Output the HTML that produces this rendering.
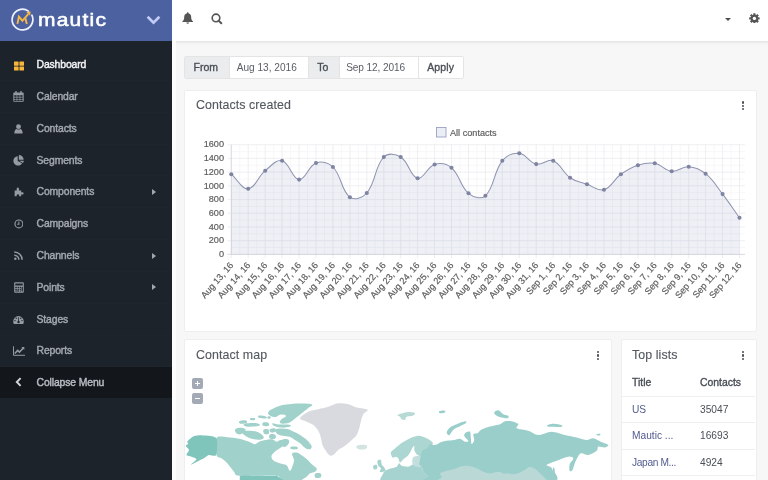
<!DOCTYPE html>
<html lang="en"><head><meta charset="utf-8"><title>Dashboard | Mautic</title>
<style>
*{box-sizing:border-box;margin:0;padding:0}
html,body{width:768px;height:480px;overflow:hidden}
body{position:relative;background:#f7f7f7;font-family:"Liberation Sans",sans-serif;font-size:10px;color:#4a4f57}
.abs{position:absolute}
#wrap{position:absolute;left:0;top:0;width:768px;height:480px;overflow:hidden;will-change:transform}
#side{position:absolute;left:0;top:0;width:172px;height:480px;background:#1d232b}
#brand{position:absolute;left:0;top:0;width:172px;height:41.4px;background:#4c61a0}
#brand .name{position:absolute;left:37.6px;top:7.7px;font-size:17.7px;font-weight:normal;-webkit-text-stroke:.55px #fff;color:#fff;letter-spacing:1.05px;line-height:24px;transform:scaleX(1.185);transform-origin:0 0}
.mi{position:absolute;left:0;width:172px;height:31.8px;color:#a3a8b0;font-size:10.3px;border-bottom:1px solid rgba(255,255,255,.012)}
.mi .ic{position:absolute;left:11.6px;top:0;width:14px;height:31.8px;display:flex;align-items:center;justify-content:center}
.mi .tx{position:absolute;left:36.5px;top:0;line-height:31.8px;font-size:10.4px;-webkit-text-stroke:.42px;letter-spacing:-.12px;white-space:nowrap}
.mi.act .tx{color:#f2f3f5}
.mi .arr{position:absolute;left:152px;top:12.6px;width:0;height:0;border-left:4px solid #a3a8b0;border-top:3.3px solid transparent;border-bottom:3.3px solid transparent}
#collapse{position:absolute;left:0;top:366.6px;width:172px;height:31.4px;background:#13171c;color:#b9bdc4;font-size:10.3px}
#collapse .tx{position:absolute;left:36.5px;line-height:31.4px;font-size:10.4px;-webkit-text-stroke:.42px;letter-spacing:-.12px}
#head{position:absolute;left:172px;top:0;width:596px;height:41px;background:#fff}
#hsh{position:absolute;left:175.5px;top:41px;width:593px;height:5px;background:linear-gradient(rgba(0,0,0,.085),rgba(0,0,0,.02) 45%,rgba(0,0,0,0))}
#strip{position:absolute;left:172px;top:41px;width:3.5px;height:439px;background:#fdfdfd}
.panel{position:absolute;background:#fff;border:1px solid #eee;border-radius:2px}
.pt{position:absolute;font-size:12.4px;color:#53585f;white-space:nowrap;letter-spacing:.08px;-webkit-text-stroke:.12px}
.keb{position:absolute;width:3px}
.keb i{display:block;width:2.4px;height:2.4px;background:#4a4f57;border-radius:50%;margin-bottom:.9px}
#filter{position:absolute;left:184px;top:55.5px;width:279.5px;height:23px;border:1px solid #e4e4e4;border-radius:2px;background:#fff;font-size:10.2px}
#filter div{position:absolute;top:0;height:21px;line-height:21.2px;text-align:center;white-space:nowrap}
#filter .ad{background:#ebecee;color:#4a4f57;font-size:10.5px;-webkit-text-stroke:.35px;border-right:1px solid #e4e4e4}
#filter .in{color:#5a5f67;letter-spacing:0;font-size:10.1px}
#filter .bt{color:#4a4f57;font-size:10.5px;-webkit-text-stroke:.35px;border-left:1px solid #e4e4e4}
svg.chart{position:absolute;left:0;top:0}
.ct{font-family:"Liberation Sans",sans-serif;font-size:9.15px;fill:#5c5c5c;stroke:#5c5c5c;stroke-width:.18px}
.tbl{position:absolute;font-size:10.2px;white-space:nowrap}
.th{font-size:10.4px;-webkit-text-stroke:.35px;color:#4a4f57}
.lnk{color:#525c8e}
.hr{position:absolute;left:622px;width:133px;height:1px;background:#efefef}
.zb{position:absolute;left:192.3px;width:11px;height:11px;background:#a4a9b6;border-radius:2px}
.zb:before{content:"";position:absolute;left:3px;top:5px;width:5px;height:1.2px;background:#fff}
.zb.pl:after{content:"";position:absolute;left:4.9px;top:3.1px;width:1.2px;height:5px;background:#fff}
</style></head><body>

<div id="wrap">
<div id="side">
<div class="mi act" style="top:49.2px"><span class="ic"><svg width="10" height="11" viewBox="0 0 10 11"><g fill="#f7b53c"><rect x="0" y="1.6" width="4.6" height="4.1" rx=".4"/><rect x="5.4" y="1.6" width="4.6" height="4.1" rx=".4"/><rect x="0" y="6.5" width="4.6" height="4.1" rx=".4"/><rect x="5.4" y="6.5" width="4.6" height="4.1" rx=".4"/></g></svg></span><span class="tx">Dashboard</span></div>
<div class="mi" style="top:81.0px"><span class="ic"><svg width="11" height="11" viewBox="0 0 11 11"><g fill="#959aa3"><rect x="0.3" y="1.6" width="10.4" height="9.2" rx=".8"/><rect x="2.3" y="0" width="1.4" height="3" rx=".6"/><rect x="7.3" y="0" width="1.4" height="3" rx=".6"/></g><g fill="#1d232b"><rect x="1.3" y="4.2" width="2.3" height="1.6"/><rect x="4.3" y="4.2" width="2.3" height="1.6"/><rect x="7.3" y="4.2" width="2.3" height="1.6"/><rect x="1.3" y="6.5" width="2.3" height="1.6"/><rect x="4.3" y="6.5" width="2.3" height="1.6"/><rect x="7.3" y="6.5" width="2.3" height="1.6"/><rect x="1.3" y="8.7" width="2.3" height="1.3"/><rect x="4.3" y="8.7" width="2.3" height="1.3"/><rect x="7.3" y="8.7" width="2.3" height="1.3"/></g></svg></span><span class="tx">Calendar</span></div>
<div class="mi" style="top:112.8px"><span class="ic"><svg width="9" height="10" viewBox="0 0 10 11"><g fill="#959aa3"><circle cx="5" cy="2.9" r="2.7"/><path d="M0.4,10.6 C0.2,7.4 1.6,5.6 3.2,5.5 C4.2,6.4 5.8,6.4 6.8,5.5 C8.4,5.6 9.8,7.4 9.6,10.6 Z"/></g></svg></span><span class="tx">Contacts</span></div>
<div class="mi" style="top:144.6px"><span class="ic"><svg width="11" height="11" viewBox="0 0 11 11"><g fill="#959aa3"><path d="M4.7,1.2 A4.7,4.7 0 1 0 9.1,8.3 L4.7,5.9 Z"/><path d="M5.8,0 A4.9,4.9 0 0 1 10.7,4.8 L5.8,4.8 Z"/><path d="M6,5.8 L10.8,5.8 A5,5 0 0 1 10,8 Z"/></g></svg></span><span class="tx">Segments</span></div>
<div class="mi" style="top:176.4px"><span class="ic"><svg width="10" height="9.6" style="margin-top:-1px" viewBox="0 0 11 11"><g fill="#959aa3"><path d="M0.5,4 H3 C2.2,2.2 3.2,0.6 4.2,0.6 C5.3,0.6 6,2.2 5.3,4 H8 V6.4 C9.6,5.6 10.8,6.4 10.8,7.4 C10.8,8.5 9.6,9.1 8,8.4 V10.7 H5.6 C6.2,9.2 5.4,8.3 4.3,8.3 C3.2,8.3 2.4,9.2 3,10.7 H0.5 Z"/></g></svg></span><span class="tx">Components</span><i class="arr"></i></div>
<div class="mi" style="top:208.2px"><span class="ic"><svg width="9.8" height="9.8" style="margin-top:-.6px" viewBox="0 0 11 11"><circle cx="5.5" cy="5.5" r="4.4" fill="none" stroke="#959aa3" stroke-width="1.3"/><path d="M5.5,2.8 V5.8 H3.6" fill="none" stroke="#959aa3" stroke-width="1.2"/></svg></span><span class="tx">Campaigns</span></div>
<div class="mi" style="top:240.0px"><span class="ic"><svg width="9" height="9" style="margin-top:-.6px" viewBox="0 0 10 10"><g fill="none" stroke="#959aa3" stroke-width="1.7"><path d="M0.3,1 A8.7,8.7 0 0 1 9,9.7"/><path d="M0.3,4.6 A5.1,5.1 0 0 1 5.4,9.7"/></g><circle cx="1.5" cy="8.5" r="1.4" fill="#959aa3"/></svg></span><span class="tx">Channels</span><i class="arr"></i></div>
<div class="mi" style="top:271.8px"><span class="ic"><svg width="10" height="11" preserveAspectRatio="none" style="margin-left:.6px" viewBox="0 0 11 11"><rect x="0.2" y="0.2" width="10.6" height="10.6" rx="1" fill="#959aa3"/><g fill="#1d232b"><rect x="1.4" y="1.5" width="8.2" height="2"/><rect x="1.4" y="4.8" width="1.7" height="1.4"/><rect x="3.9" y="4.8" width="1.7" height="1.4"/><rect x="6.4" y="4.8" width="1.3" height="1.4"/><rect x="8.4" y="4.8" width="1.3" height="4.6"/><rect x="1.4" y="6.9" width="1.7" height="1.0"/><rect x="3.9" y="6.9" width="1.7" height="1.0"/><rect x="6.4" y="6.9" width="1.3" height="1.0"/><rect x="1.4" y="8.5" width="4.2" height="1"/><rect x="6.4" y="8.5" width="1.3" height="1"/></g></svg></span><span class="tx">Points</span><i class="arr"></i></div>
<div class="mi" style="top:303.6px"><span class="ic"><svg width="11" height="9" viewBox="0 0 11 9" style="margin-top:-.8px"><path d="M0.2,6.6 A5.3,5.6 0 0 1 10.8,6.6 C10.8,7.6 10.6,8.4 10.2,8.9 H0.8 C0.4,8.4 0.2,7.6 0.2,6.6 Z" fill="#959aa3"/><g fill="#1d232b"><circle cx="2" cy="5.6" r=".7"/><circle cx="3.2" cy="3.2" r=".7"/><circle cx="7.8" cy="3.2" r=".7"/><circle cx="9" cy="5.6" r=".7"/><circle cx="5.5" cy="7" r="1.2"/><rect x="5.15" y="2.2" width=".75" height="4.4"/></g></svg></span><span class="tx">Stages</span></div>
<div class="mi" style="top:335.4px"><span class="ic"><svg width="12" height="10" viewBox="0 0 12 10" style="margin-top:-1.4px"><g fill="none" stroke="#959aa3"><path d="M0.5,0.3 V9.3 H12" stroke-width="1"/><path d="M1.8,7.4 L4.6,4.4 L6.4,6.1 L10.6,1.8" stroke-width="1.5"/></g><path d="M8.3,1.1 H11.3 V4.1 Z" fill="#959aa3"/></svg></span><span class="tx">Reports</span></div>
<div id="collapse"><svg class="abs" style="left:14.6px;top:10.7px" width="8" height="10" viewBox="0 0 8 10"><path d="M5.6,1.1 L1.8,5 L5.6,8.9" fill="none" stroke="#d4d6da" stroke-width="1.9"/></svg><span class="tx">Collapse Menu</span></div>
<div id="brand">
<svg class="abs" style="left:9.95px;top:6.55px" width="28" height="27" viewBox="0 0 28 27">
<path d="M18.44,4.12 A10.35,10.35 0 1 0 21.88,8.23" fill="none" stroke="#eef1fd" stroke-width="1.75" stroke-linecap="round"/>
<path d="M7.4,16.9 L8.9,9.7 L12.4,13.9 L18.2,7.2" fill="none" stroke="#f7b945" stroke-width="1.9"/>
<path d="M15.4,11.2 L16.8,17" fill="none" stroke="#f7b945" stroke-width="1.9"/>
<path d="M16.2,5.0 L20.6,4.4 L20.1,8.8 Z" fill="#f7b945"/>
</svg>
<span class="name">mautic</span>
<svg class="abs" style="left:146.3px;top:14.6px" width="15" height="11" viewBox="0 0 15 11"><path d="M1.6,1.8 L7.5,7.7 L13.4,1.8" fill="none" stroke="#c3cbf6" stroke-width="2.7"/></svg>
</div>
</div>

<div id="strip"></div><div id="hsh"></div>
<div id="head">
<svg class="abs" style="left:9.7px;top:12.2px" width="11.4" height="12" viewBox="0 0 12 12" preserveAspectRatio="none"><path d="M6,0.3 C6.6,0.3 6.9,0.7 6.9,1.2 C9,1.8 9.7,3.4 9.7,5.4 C9.7,7.4 10.4,8.4 11.6,9.3 V9.9 H0.4 V9.3 C1.6,8.4 2.3,7.4 2.3,5.4 C2.3,3.4 3,1.8 5.1,1.2 C5.1,0.7 5.4,0.3 6,0.3 Z M4.6,10.4 H7.4 A1.4,1.4 0 0 1 4.6,10.4 Z" fill="#555"/></svg>
<svg class="abs" style="left:39px;top:12.5px" width="12" height="12" viewBox="0 0 12 12"><circle cx="5" cy="4.9" r="3.8" fill="none" stroke="#555" stroke-width="1.6"/><path d="M7.6,7.6 L10.3,10.3" stroke="#555" stroke-width="2" stroke-linecap="round"/></svg>
<i class="abs" style="left:553px;top:17.8px;width:0;height:0;border-top:3.2px solid #505050;border-left:3.2px solid transparent;border-right:3.2px solid transparent"></i>
<svg class="abs" style="left:577.3px;top:12.6px" width="10.8" height="10.8" viewBox="-6 -6 12 12"><g fill="#555"><circle r="4.1"/><g id="t"><rect x="-1.25" y="-5.8" width="2.5" height="11.6" rx=".4"/></g><rect x="-1.25" y="-5.8" width="2.5" height="11.6" rx=".4" transform="rotate(45)"/><rect x="-1.25" y="-5.8" width="2.5" height="11.6" rx=".4" transform="rotate(90)"/><rect x="-1.25" y="-5.8" width="2.5" height="11.6" rx=".4" transform="rotate(135)"/></g><circle r="1.9" fill="#fff"/></svg>
</div>

<div id="filter">
<div class="ad" style="left:0;width:44.5px;padding-right:2px">From</div>
<div class="in" style="left:44.5px;width:78.5px;padding-right:4px">Aug 13, 2016</div>
<div class="ad" style="left:123px;width:31.5px;border-left:1px solid #e4e4e4;padding-right:2px">To</div>
<div class="in" style="left:154.5px;width:78.3px;padding-right:6px;letter-spacing:-.1px">Sep 12, 2016</div>
<div class="bt" style="left:232.8px;width:44.7px;letter-spacing:.1px">Apply</div>
</div>

<div class="panel" style="left:184px;top:90.1px;width:572.5px;height:241.5px"></div>
<div class="pt" style="left:196px;top:98.1px">Contacts created</div>
<div class="keb" style="left:741.6px;top:101.3px"><i></i><i></i><i></i></div>

<div class="panel" style="left:184px;top:339.4px;width:428px;height:150px;overflow:hidden"></div>
<div class="pt" style="left:196px;top:347.9px">Contact map</div>
<div class="keb" style="left:596.6px;top:351px"><i></i><i></i><i></i></div>
<div class="zb pl" style="top:377.7px"></div>
<div class="zb" style="top:392.7px"></div>

<div class="panel" style="left:621px;top:339.4px;width:135.5px;height:150px"></div>
<div class="pt" style="left:632px;top:347.9px">Top lists</div>
<div class="keb" style="left:741.6px;top:351px"><i></i><i></i><i></i></div>
<div class="tbl th" style="left:632px;top:376.5px">Title</div><div class="tbl th" style="left:700px;top:376.5px">Contacts</div>
<div class="hr" style="top:396px"></div>
<div class="tbl lnk" style="left:632px;top:403.5px">US</div><div class="tbl" style="left:700px;top:403.5px">35047</div>
<div class="hr" style="top:422px"></div>
<div class="tbl lnk" style="left:632px;top:430px">Mautic ...</div><div class="tbl" style="left:700px;top:430px">16693</div>
<div class="hr" style="top:448.5px"></div>
<div class="tbl lnk" style="left:632px;top:456.5px;letter-spacing:-.35px">Japan M...</div><div class="tbl" style="left:700px;top:456.5px">4924</div>
<div class="hr" style="top:474.5px"></div>

<svg class="chart" width="768" height="480" viewBox="0 0 768 480">
<g stroke="#f4f4f7" stroke-width="0.7"><line x1="231.3" y1="151.6" x2="745" y2="151.6"/><line x1="231.3" y1="165.3" x2="745" y2="165.3"/><line x1="231.3" y1="179.0" x2="745" y2="179.0"/><line x1="231.3" y1="192.7" x2="745" y2="192.7"/><line x1="231.3" y1="206.4" x2="745" y2="206.4"/><line x1="231.3" y1="220.1" x2="745" y2="220.1"/><line x1="231.3" y1="233.8" x2="745" y2="233.8"/><line x1="231.3" y1="247.5" x2="745" y2="247.5"/><line x1="239.8" y1="144.7" x2="239.8" y2="254.4"/><line x1="256.7" y1="144.7" x2="256.7" y2="254.4"/><line x1="273.7" y1="144.7" x2="273.7" y2="254.4"/><line x1="290.6" y1="144.7" x2="290.6" y2="254.4"/><line x1="307.5" y1="144.7" x2="307.5" y2="254.4"/><line x1="324.5" y1="144.7" x2="324.5" y2="254.4"/><line x1="341.4" y1="144.7" x2="341.4" y2="254.4"/><line x1="358.4" y1="144.7" x2="358.4" y2="254.4"/><line x1="375.3" y1="144.7" x2="375.3" y2="254.4"/><line x1="392.2" y1="144.7" x2="392.2" y2="254.4"/><line x1="409.2" y1="144.7" x2="409.2" y2="254.4"/><line x1="426.1" y1="144.7" x2="426.1" y2="254.4"/><line x1="443.1" y1="144.7" x2="443.1" y2="254.4"/><line x1="460.0" y1="144.7" x2="460.0" y2="254.4"/><line x1="476.9" y1="144.7" x2="476.9" y2="254.4"/><line x1="493.9" y1="144.7" x2="493.9" y2="254.4"/><line x1="510.8" y1="144.7" x2="510.8" y2="254.4"/><line x1="527.8" y1="144.7" x2="527.8" y2="254.4"/><line x1="544.7" y1="144.7" x2="544.7" y2="254.4"/><line x1="561.6" y1="144.7" x2="561.6" y2="254.4"/><line x1="578.6" y1="144.7" x2="578.6" y2="254.4"/><line x1="595.5" y1="144.7" x2="595.5" y2="254.4"/><line x1="612.5" y1="144.7" x2="612.5" y2="254.4"/><line x1="629.4" y1="144.7" x2="629.4" y2="254.4"/><line x1="646.3" y1="144.7" x2="646.3" y2="254.4"/><line x1="663.3" y1="144.7" x2="663.3" y2="254.4"/><line x1="680.2" y1="144.7" x2="680.2" y2="254.4"/><line x1="697.2" y1="144.7" x2="697.2" y2="254.4"/><line x1="714.1" y1="144.7" x2="714.1" y2="254.4"/><line x1="731.0" y1="144.7" x2="731.0" y2="254.4"/></g>
<g stroke="#ebebef" stroke-width="0.8"><line x1="227.5" y1="144.7" x2="745" y2="144.7"/><line x1="227.5" y1="158.4" x2="745" y2="158.4"/><line x1="227.5" y1="172.1" x2="745" y2="172.1"/><line x1="227.5" y1="185.8" x2="745" y2="185.8"/><line x1="227.5" y1="199.6" x2="745" y2="199.6"/><line x1="227.5" y1="213.3" x2="745" y2="213.3"/><line x1="227.5" y1="227.0" x2="745" y2="227.0"/><line x1="227.5" y1="240.7" x2="745" y2="240.7"/><line x1="227.5" y1="254.4" x2="745" y2="254.4"/><line x1="231.3" y1="144.7" x2="231.3" y2="258.4"/><line x1="248.2" y1="144.7" x2="248.2" y2="258.4"/><line x1="265.2" y1="144.7" x2="265.2" y2="258.4"/><line x1="282.1" y1="144.7" x2="282.1" y2="258.4"/><line x1="299.1" y1="144.7" x2="299.1" y2="258.4"/><line x1="316.0" y1="144.7" x2="316.0" y2="258.4"/><line x1="332.9" y1="144.7" x2="332.9" y2="258.4"/><line x1="349.9" y1="144.7" x2="349.9" y2="258.4"/><line x1="366.8" y1="144.7" x2="366.8" y2="258.4"/><line x1="383.8" y1="144.7" x2="383.8" y2="258.4"/><line x1="400.7" y1="144.7" x2="400.7" y2="258.4"/><line x1="417.6" y1="144.7" x2="417.6" y2="258.4"/><line x1="434.6" y1="144.7" x2="434.6" y2="258.4"/><line x1="451.5" y1="144.7" x2="451.5" y2="258.4"/><line x1="468.5" y1="144.7" x2="468.5" y2="258.4"/><line x1="485.4" y1="144.7" x2="485.4" y2="258.4"/><line x1="502.3" y1="144.7" x2="502.3" y2="258.4"/><line x1="519.3" y1="144.7" x2="519.3" y2="258.4"/><line x1="536.2" y1="144.7" x2="536.2" y2="258.4"/><line x1="553.2" y1="144.7" x2="553.2" y2="258.4"/><line x1="570.1" y1="144.7" x2="570.1" y2="258.4"/><line x1="587.0" y1="144.7" x2="587.0" y2="258.4"/><line x1="604.0" y1="144.7" x2="604.0" y2="258.4"/><line x1="620.9" y1="144.7" x2="620.9" y2="258.4"/><line x1="637.9" y1="144.7" x2="637.9" y2="258.4"/><line x1="654.8" y1="144.7" x2="654.8" y2="258.4"/><line x1="671.7" y1="144.7" x2="671.7" y2="258.4"/><line x1="688.7" y1="144.7" x2="688.7" y2="258.4"/><line x1="705.6" y1="144.7" x2="705.6" y2="258.4"/><line x1="722.6" y1="144.7" x2="722.6" y2="258.4"/><line x1="739.5" y1="144.7" x2="739.5" y2="258.4"/></g>
<line x1="231.3" y1="144.7" x2="231.3" y2="254.4" stroke="#d9d9df" stroke-width="0.9"/>
<line x1="227.5" y1="254.4" x2="745" y2="254.4" stroke="#d9d9df" stroke-width="0.9"/>
<path d="M231.3,174.2C238.1,180.0 241.8,189.5 248.2,188.8C255.4,188.1 257.6,177.0 265.2,170.7C271.2,165.8 276.2,159.2 282.1,160.8C289.8,162.8 292.1,179.1 299.1,179.6C305.6,180.0 308.2,165.9 316.0,163.0C321.7,160.9 328.4,162.4 332.9,167.0C342.0,176.1 340.9,190.3 349.9,197.2C354.4,200.7 362.7,197.9 366.8,193.0C376.2,181.8 374.3,167.1 383.8,157.0C387.8,152.7 395.5,153.7 400.7,157.0C409.1,162.3 410.1,176.6 417.6,178.3C423.7,179.6 427.0,166.8 434.6,164.5C440.6,162.6 446.6,163.6 451.5,167.8C460.2,175.2 459.8,186.1 468.5,193.3C473.3,197.3 481.3,199.8 485.4,195.8C494.8,186.8 493.2,172.3 502.3,160.8C506.7,155.3 512.8,152.7 519.3,153.3C526.3,154.0 528.9,162.5 536.2,164.1C542.5,165.5 547.5,158.4 553.2,160.7C561.0,163.9 562.4,172.3 570.1,177.7C575.9,181.8 580.2,181.9 587.0,184.3C593.7,186.7 598.1,191.4 604.0,189.7C611.6,187.4 613.5,179.6 620.9,174.3C627.1,169.9 630.7,167.6 637.9,165.3C644.2,163.2 648.3,162.2 654.8,163.3C661.9,164.6 664.7,170.6 671.7,171.3C678.3,172.0 682.1,166.2 688.7,166.7C695.6,167.2 700.1,169.2 705.6,173.7C713.6,180.2 716.1,185.7 722.6,194.1C729.7,203.3 732.7,208.3 739.5,217.8L739.5,254.4L231.3,254.4Z" fill="rgba(78,93,157,0.095)"/>
<path d="M231.3,174.2C238.1,180.0 241.8,189.5 248.2,188.8C255.4,188.1 257.6,177.0 265.2,170.7C271.2,165.8 276.2,159.2 282.1,160.8C289.8,162.8 292.1,179.1 299.1,179.6C305.6,180.0 308.2,165.9 316.0,163.0C321.7,160.9 328.4,162.4 332.9,167.0C342.0,176.1 340.9,190.3 349.9,197.2C354.4,200.7 362.7,197.9 366.8,193.0C376.2,181.8 374.3,167.1 383.8,157.0C387.8,152.7 395.5,153.7 400.7,157.0C409.1,162.3 410.1,176.6 417.6,178.3C423.7,179.6 427.0,166.8 434.6,164.5C440.6,162.6 446.6,163.6 451.5,167.8C460.2,175.2 459.8,186.1 468.5,193.3C473.3,197.3 481.3,199.8 485.4,195.8C494.8,186.8 493.2,172.3 502.3,160.8C506.7,155.3 512.8,152.7 519.3,153.3C526.3,154.0 528.9,162.5 536.2,164.1C542.5,165.5 547.5,158.4 553.2,160.7C561.0,163.9 562.4,172.3 570.1,177.7C575.9,181.8 580.2,181.9 587.0,184.3C593.7,186.7 598.1,191.4 604.0,189.7C611.6,187.4 613.5,179.6 620.9,174.3C627.1,169.9 630.7,167.6 637.9,165.3C644.2,163.2 648.3,162.2 654.8,163.3C661.9,164.6 664.7,170.6 671.7,171.3C678.3,172.0 682.1,166.2 688.7,166.7C695.6,167.2 700.1,169.2 705.6,173.7C713.6,180.2 716.1,185.7 722.6,194.1C729.7,203.3 732.7,208.3 739.5,217.8" fill="none" stroke="#9096b1" stroke-width="1.05"/>
<g fill="#7e84a1"><circle cx="231.3" cy="174.2" r="2.05"/><circle cx="248.2" cy="188.8" r="2.05"/><circle cx="265.2" cy="170.7" r="2.05"/><circle cx="282.1" cy="160.8" r="2.05"/><circle cx="299.1" cy="179.6" r="2.05"/><circle cx="316.0" cy="163.0" r="2.05"/><circle cx="332.9" cy="167.0" r="2.05"/><circle cx="349.9" cy="197.2" r="2.05"/><circle cx="366.8" cy="193.0" r="2.05"/><circle cx="383.8" cy="157.0" r="2.05"/><circle cx="400.7" cy="157.0" r="2.05"/><circle cx="417.6" cy="178.3" r="2.05"/><circle cx="434.6" cy="164.5" r="2.05"/><circle cx="451.5" cy="167.8" r="2.05"/><circle cx="468.5" cy="193.3" r="2.05"/><circle cx="485.4" cy="195.8" r="2.05"/><circle cx="502.3" cy="160.8" r="2.05"/><circle cx="519.3" cy="153.3" r="2.05"/><circle cx="536.2" cy="164.1" r="2.05"/><circle cx="553.2" cy="160.7" r="2.05"/><circle cx="570.1" cy="177.7" r="2.05"/><circle cx="587.0" cy="184.3" r="2.05"/><circle cx="604.0" cy="189.7" r="2.05"/><circle cx="620.9" cy="174.3" r="2.05"/><circle cx="637.9" cy="165.3" r="2.05"/><circle cx="654.8" cy="163.3" r="2.05"/><circle cx="671.7" cy="171.3" r="2.05"/><circle cx="688.7" cy="166.7" r="2.05"/><circle cx="705.6" cy="173.7" r="2.05"/><circle cx="722.6" cy="194.1" r="2.05"/><circle cx="739.5" cy="217.8" r="2.05"/></g>
<g class="ct"><text x="224" y="147.4" text-anchor="end">1600</text><text x="224" y="161.1" text-anchor="end">1400</text><text x="224" y="174.8" text-anchor="end">1200</text><text x="224" y="188.5" text-anchor="end">1000</text><text x="224" y="202.2" text-anchor="end">800</text><text x="224" y="216.0" text-anchor="end">600</text><text x="224" y="229.7" text-anchor="end">400</text><text x="224" y="243.4" text-anchor="end">200</text><text x="224" y="257.1" text-anchor="end">0</text></g>
<g class="ct"><text transform="translate(233.9,265.7) rotate(-49)" text-anchor="end">Aug 13, 16</text><text transform="translate(250.8,265.7) rotate(-49)" text-anchor="end">Aug 14, 16</text><text transform="translate(267.8,265.7) rotate(-49)" text-anchor="end">Aug 15, 16</text><text transform="translate(284.7,265.7) rotate(-49)" text-anchor="end">Aug 16, 16</text><text transform="translate(301.7,265.7) rotate(-49)" text-anchor="end">Aug 17, 16</text><text transform="translate(318.6,265.7) rotate(-49)" text-anchor="end">Aug 18, 16</text><text transform="translate(335.5,265.7) rotate(-49)" text-anchor="end">Aug 19, 16</text><text transform="translate(352.5,265.7) rotate(-49)" text-anchor="end">Aug 20, 16</text><text transform="translate(369.4,265.7) rotate(-49)" text-anchor="end">Aug 21, 16</text><text transform="translate(386.4,265.7) rotate(-49)" text-anchor="end">Aug 22, 16</text><text transform="translate(403.3,265.7) rotate(-49)" text-anchor="end">Aug 23, 16</text><text transform="translate(420.2,265.7) rotate(-49)" text-anchor="end">Aug 24, 16</text><text transform="translate(437.2,265.7) rotate(-49)" text-anchor="end">Aug 25, 16</text><text transform="translate(454.1,265.7) rotate(-49)" text-anchor="end">Aug 26, 16</text><text transform="translate(471.1,265.7) rotate(-49)" text-anchor="end">Aug 27, 16</text><text transform="translate(488.0,265.7) rotate(-49)" text-anchor="end">Aug 28, 16</text><text transform="translate(504.9,265.7) rotate(-49)" text-anchor="end">Aug 29, 16</text><text transform="translate(521.9,265.7) rotate(-49)" text-anchor="end">Aug 30, 16</text><text transform="translate(538.8,265.7) rotate(-49)" text-anchor="end">Aug 31, 16</text><text transform="translate(555.8,265.7) rotate(-49)" text-anchor="end">Sep 1, 16</text><text transform="translate(572.7,265.7) rotate(-49)" text-anchor="end">Sep 2, 16</text><text transform="translate(589.6,265.7) rotate(-49)" text-anchor="end">Sep 3, 16</text><text transform="translate(606.6,265.7) rotate(-49)" text-anchor="end">Sep 4, 16</text><text transform="translate(623.5,265.7) rotate(-49)" text-anchor="end">Sep 5, 16</text><text transform="translate(640.5,265.7) rotate(-49)" text-anchor="end">Sep 6, 16</text><text transform="translate(657.4,265.7) rotate(-49)" text-anchor="end">Sep 7, 16</text><text transform="translate(674.3,265.7) rotate(-49)" text-anchor="end">Sep 8, 16</text><text transform="translate(691.3,265.7) rotate(-49)" text-anchor="end">Sep 9, 16</text><text transform="translate(708.2,265.7) rotate(-49)" text-anchor="end">Sep 10, 16</text><text transform="translate(725.2,265.7) rotate(-49)" text-anchor="end">Sep 11, 16</text><text transform="translate(742.1,265.7) rotate(-49)" text-anchor="end">Sep 12, 16</text></g>
<rect x="436.5" y="127.5" width="9.5" height="9.5" fill="#eceef6" stroke="#9aa2c6" stroke-width="0.9"/>
<text class="ct" x="450" y="136.2">All contacts</text>
</svg>
<svg class="chart" style="left:185px;top:395px" width="426" height="85" viewBox="185 395 426 85"><path d="M216.5,438.0C218.1,435.4 224.0,437.2 227.3,437.3C230.7,437.4 235.8,438.0 239.0,438.7C242.2,439.3 246.6,440.8 249.0,441.7C251.4,442.5 253.3,444.2 254.8,444.2C256.3,444.2 257.4,442.3 259.0,441.7C260.6,441.0 263.7,440.4 265.7,440.0C267.7,439.6 270.7,438.9 272.3,439.2C274.0,439.4 275.2,441.5 276.5,441.7C277.8,441.8 279.5,439.6 280.7,440.0C281.8,440.4 284.1,442.9 284.0,444.2C283.9,445.4 281.2,447.2 279.8,448.3C278.5,449.5 276.1,450.5 274.8,451.7C273.6,452.8 271.8,454.5 271.5,455.8C271.2,457.1 271.9,459.2 273.2,460.3C274.4,461.5 277.8,462.6 279.8,463.3C281.8,464.1 285.0,464.2 286.5,465.3C288.0,466.5 289.0,470.6 289.8,470.8C290.7,471.0 291.7,468.3 292.3,466.7C293.0,465.0 294.1,461.9 294.0,460.0C293.9,458.1 291.5,454.8 292.0,453.7C292.5,452.6 295.4,452.0 297.5,452.7C299.6,453.4 303.7,456.6 305.8,458.3C308.0,460.1 310.0,462.7 311.7,464.2C313.3,465.7 316.2,467.2 316.7,468.3C317.2,469.5 316.0,470.9 315.0,471.7C314.0,472.4 311.2,472.6 310.0,473.3C308.8,474.1 307.9,475.7 306.7,476.7C305.4,477.7 302.6,479.2 301.7,480.0C300.8,480.8 304.3,481.4 300.7,481.7C297.0,481.9 280.8,482.5 277.3,481.7C273.8,480.8 283.0,476.7 277.3,475.8C271.7,475.0 246.3,476.5 239.8,475.8C233.3,475.2 235.9,473.5 234.0,471.7C232.1,469.8 229.2,465.3 227.3,463.3C225.5,461.3 223.1,459.6 221.5,458.3C219.9,457.1 217.2,458.1 216.5,455.0C215.8,451.9 214.9,440.6 216.5,438.0Z" fill="#a0d1cb"/><path d="M239.8,475.8 L277.3,475.8 L279.8,478.3 L284.0,480.0 L284.0,481.7 L239.8,481.7Z" fill="#7fc5bc"/><path d="M187.3,441.7C187.8,440.9 190.8,437.8 192.3,437.0C193.8,436.2 197.0,435.2 199.8,435.3C202.7,435.5 214.2,435.6 216.2,438.0C218.1,440.4 217.0,453.0 216.2,455.0C215.3,457.0 210.5,454.6 209.0,455.0C207.5,455.4 205.1,457.7 204.0,458.3C202.9,459.0 201.0,459.7 199.8,460.3C198.6,460.9 195.1,462.8 194.0,463.3C192.9,463.9 190.4,465.2 190.7,464.7C191.0,464.2 196.4,460.1 196.5,459.2C196.6,458.2 192.7,457.2 191.5,456.7C190.3,456.2 186.8,455.8 186.5,455.0C186.2,454.2 189.1,451.1 189.0,450.0C188.9,448.9 185.8,446.6 185.7,445.8C185.6,445.1 188.0,444.2 188.2,443.7C188.4,443.2 186.8,442.5 187.3,441.7Z" fill="#7fc5bc"/><path d="M268.2,412.3C269.1,410.6 271.8,409.1 275.3,407.5C278.9,406.0 281.0,405.4 286.0,404.6C291.0,403.7 295.0,403.4 300.3,403.4C305.5,403.4 310.7,403.5 312.1,404.6C313.6,405.6 309.5,406.9 307.4,408.7C305.2,410.5 303.8,411.6 301.4,413.5C299.1,415.4 297.6,416.6 295.5,418.2C293.4,419.9 292.7,420.7 290.8,421.8C288.9,422.9 288.1,423.3 286.0,423.6C283.9,423.8 281.0,423.8 280.1,423.0C279.1,422.1 280.1,420.8 281.3,419.4C282.4,418.0 286.2,416.8 286.0,415.9C285.8,414.9 282.2,414.4 280.1,414.7C277.9,414.9 277.2,416.8 275.3,417.0C273.4,417.3 272.0,416.8 270.6,415.9C269.1,414.9 267.2,414.0 268.2,412.3Z" fill="#a0d1cb"/><path d="M272.7,423.2C273.6,422.9 275.3,424.0 278.6,424.4C281.9,424.7 287.1,424.2 289.3,424.7C291.5,425.2 291.2,426.3 289.5,426.8C287.9,427.4 284.1,427.8 281.0,427.6C277.8,427.3 275.5,426.7 273.9,425.8C272.2,424.9 271.7,423.4 272.7,423.2Z" fill="#a0d1cb"/><path d="M258.6,415.7C259.9,415.4 264.3,416.0 265.7,416.6C267.2,417.2 267.3,418.3 266.0,418.5C264.7,418.7 260.7,418.4 259.2,417.8C257.7,417.2 257.3,415.9 258.6,415.7Z" fill="#a0d1cb"/><path d="M250.5,418.1C251.3,417.8 253.8,417.8 254.7,418.1C255.5,418.5 255.5,419.5 254.7,419.9C253.8,420.3 251.3,420.3 250.5,419.9C249.7,419.5 249.7,418.5 250.5,418.1Z" fill="#a0d1cb"/><path d="M239.4,421.2C240.4,420.6 244.5,420.1 245.9,420.4C247.3,420.8 247.6,422.4 246.5,423.0C245.4,423.7 242.0,424.1 240.5,423.7C239.1,423.4 238.3,421.9 239.4,421.2Z" fill="#a0d1cb"/><path d="M245.3,423.6C247.6,423.0 255.1,422.9 257.7,423.4C260.3,423.8 260.7,425.4 258.3,426.0C255.9,426.6 248.5,426.9 245.9,426.4C243.2,426.0 242.9,424.2 245.3,423.6Z" fill="#a0d1cb"/><path d="M262.9,422.7C263.9,422.1 267.1,422.1 268.2,422.7C269.4,423.3 269.6,425.1 268.6,425.7C267.6,426.3 264.3,426.3 263.1,425.7C262.0,425.1 261.9,423.3 262.9,422.7Z" fill="#a0d1cb"/><path d="M267.8,416.6C268.3,416.2 269.8,416.2 270.3,416.6C270.8,416.9 270.8,418.1 270.3,418.4C269.8,418.8 268.3,418.8 267.8,418.4C267.3,418.1 267.3,416.9 267.8,416.6Z" fill="#a0d1cb"/><path d="M235.0,430.1C235.2,428.8 237.1,428.0 239.2,427.8C241.2,427.5 244.1,428.0 245.1,428.9C246.1,429.9 245.6,431.4 244.1,432.5C242.7,433.6 239.8,434.8 238.0,434.3C236.1,433.8 234.8,431.4 235.0,430.1Z" fill="#a0d1cb"/><path d="M242.4,432.1C242.8,431.1 245.0,430.8 248.1,430.7C251.1,430.7 254.5,430.7 257.6,431.9C260.6,433.1 262.8,435.1 263.5,436.6C264.2,438.2 263.3,439.1 261.1,439.6C259.0,440.1 255.9,439.7 252.8,439.0C249.7,438.3 247.8,437.4 245.7,436.0C243.6,434.7 241.9,433.2 242.4,432.1Z" fill="#a0d1cb"/><path d="M263.4,430.0C264.1,429.0 267.1,428.7 268.2,429.4C269.2,430.1 269.5,432.6 268.8,433.6C268.1,434.5 265.7,434.9 264.6,434.1C263.5,433.4 262.7,430.9 263.4,430.0Z" fill="#a0d1cb"/><path d="M269.6,429.6C270.3,428.7 273.8,428.0 275.0,428.4C276.2,428.7 276.3,430.5 275.6,431.4C274.8,432.2 272.6,432.9 271.4,432.5C270.2,432.2 268.9,430.4 269.6,429.6Z" fill="#a0d1cb"/><path d="M275.5,430.3C275.8,429.2 276.7,428.8 279.1,428.5C281.4,428.3 284.5,428.5 287.4,429.1C290.2,429.7 290.9,430.4 293.3,431.5C295.7,432.6 296.9,433.0 299.2,434.5C301.6,435.9 303.0,436.8 305.2,438.6C307.3,440.4 308.6,441.7 309.9,443.4C311.2,445.0 311.9,445.8 311.7,446.9C311.5,448.1 310.3,449.3 308.7,449.3C307.2,449.3 305.7,448.1 304.0,446.9C302.3,445.8 302.3,444.8 300.4,443.4C298.5,442.0 296.6,441.1 294.5,439.8C292.4,438.5 292.1,437.7 289.7,436.8C287.4,436.0 285.1,436.3 282.6,435.7C280.1,435.1 278.7,434.9 277.3,433.9C275.8,432.8 275.1,431.4 275.5,430.3Z" fill="#a0d1cb"/><path d="M291.0,446.7C292.1,446.3 295.7,446.3 296.9,446.7C298.2,447.2 298.3,448.6 297.2,449.1C296.0,449.6 292.5,449.6 291.2,449.1C290.0,448.6 289.9,447.2 291.0,446.7Z" fill="#a0d1cb"/><path d="M269.7,434.7C270.7,433.9 273.9,433.9 275.0,434.7C276.1,435.4 276.3,437.6 275.3,438.4C274.2,439.1 271.0,439.1 269.9,438.4C268.8,437.6 268.7,435.4 269.7,434.7Z" fill="#a0d1cb"/><path d="M280.4,440.9C281.2,439.4 284.6,438.8 286.3,438.9C288.1,439.0 289.3,440.0 289.3,441.5C289.3,443.0 287.8,445.3 286.3,446.3C284.9,447.2 283.4,447.3 282.2,446.3C281.0,445.2 279.6,442.4 280.4,440.9Z" fill="#a0d1cb"/><path d="M315.0,473.7C315.8,472.9 319.3,472.7 320.3,473.3C321.4,473.9 321.8,476.2 321.0,477.0C320.2,477.8 316.7,478.3 315.7,477.7C314.6,477.1 314.2,474.4 315.0,473.7Z" fill="#a0d1cb"/><path d="M300.0,418.3C300.3,416.5 305.0,413.3 308.3,411.7C311.6,410.0 314.7,410.1 318.3,409.2C321.9,408.3 324.7,407.7 328.3,406.7C331.9,405.6 334.7,403.8 338.3,403.3C341.9,402.9 345.0,403.4 348.3,404.2C351.6,404.9 353.2,406.5 356.7,407.5C360.1,408.5 366.3,408.5 367.5,409.7C368.7,410.9 364.5,412.0 363.3,414.2C362.1,416.3 361.6,419.1 360.8,421.7C360.1,424.2 359.9,425.9 359.2,428.3C358.4,430.7 358.0,432.9 356.7,435.0C355.3,437.1 353.8,438.1 351.7,440.0C349.6,441.9 347.4,444.0 345.0,445.8C342.6,447.6 340.4,448.4 338.3,450.0C336.2,451.6 335.0,454.1 333.3,455.0C331.7,455.9 330.5,455.8 329.2,455.0C327.8,454.2 327.0,452.6 325.8,450.8C324.6,449.0 323.4,447.4 322.5,445.0C321.6,442.6 321.6,440.1 320.8,437.5C320.1,434.9 319.7,433.1 318.3,430.8C317.0,428.6 315.4,426.6 313.3,425.0C311.2,423.4 309.1,422.9 306.7,421.7C304.3,420.5 299.7,420.1 300.0,418.3Z" fill="#d8dae0"/><path d="M356.7,445.8C357.8,445.2 360.4,444.7 362.5,444.7C364.6,444.7 366.3,445.0 367.0,445.8C367.7,446.6 367.2,447.9 365.8,448.7C364.4,449.4 361.8,449.6 360.0,449.5C358.2,449.4 357.7,448.7 357.0,448.0C356.3,447.3 355.6,446.5 356.7,445.8Z" fill="#d3e3e2"/><path d="M397.5,415.0C398.2,414.3 400.8,413.6 403.3,413.0C405.8,412.4 407.7,411.9 410.0,412.0C412.3,412.1 414.5,412.6 415.0,413.3C415.5,414.1 414.2,415.2 412.5,415.8C410.8,416.5 408.2,415.9 406.7,416.7C405.2,417.4 406.0,419.2 405.0,419.7C404.0,420.2 402.7,419.8 401.7,419.2C400.7,418.6 400.8,417.5 400.0,416.7C399.2,415.8 396.8,415.7 397.5,415.0Z" fill="#b7dad6"/><path d="M377.5,460.8C378.0,459.7 380.0,459.3 380.8,460.0C381.7,460.7 381.0,462.7 381.7,464.2C382.3,465.7 383.4,466.2 384.2,467.5C384.9,468.8 386.2,469.9 385.3,470.8C384.5,471.7 380.9,472.5 380.0,472.0C379.1,471.5 381.2,469.6 380.8,468.3C380.5,467.1 379.0,467.3 378.3,465.8C377.7,464.3 377.0,462.0 377.5,460.8Z" fill="#a6d3cf"/><path d="M373.3,465.8C373.9,465.0 375.9,464.4 376.7,465.0C377.4,465.6 377.6,467.8 377.0,468.7C376.4,469.5 374.6,469.7 373.8,469.2C373.1,468.6 372.8,466.7 373.3,465.8Z" fill="#a6d3cf"/><path d="M383.3,473.3C383.8,471.3 385.4,470.8 386.7,470.0C387.9,469.2 390.2,468.8 391.7,468.3C393.2,467.8 395.5,467.4 396.7,466.7C397.8,465.9 398.4,463.5 399.2,463.3C399.9,463.2 400.3,465.3 401.7,465.8C403.0,466.3 406.6,466.9 408.3,466.7C410.1,466.4 411.8,464.7 413.3,464.2C414.8,463.7 417.1,463.0 418.3,463.3C419.6,463.7 420.9,465.4 421.7,466.7C422.4,467.9 422.3,470.2 423.3,471.7C424.3,473.2 427.3,474.9 428.3,476.7C429.3,478.4 436.8,482.3 430.0,483.3C423.2,484.3 390.3,484.8 383.3,483.3C376.3,481.8 382.8,475.3 383.3,473.3Z" fill="#a6d3cf"/><path d="M390.8,452.5C391.1,451.2 392.8,450.4 394.2,449.2C395.5,447.9 398.1,445.5 400.0,444.2C401.9,442.8 404.7,441.1 406.7,440.0C408.7,438.9 411.5,437.6 413.3,437.0C415.2,436.4 417.4,435.8 419.2,435.8C420.9,435.9 423.2,436.8 425.0,437.5C426.8,438.2 429.6,439.9 430.8,440.8C432.0,441.8 433.1,442.8 433.0,443.7C432.9,444.5 430.6,445.3 430.0,446.3C429.4,447.4 430.0,449.5 429.3,450.8C428.7,452.1 427.1,454.2 425.8,455.0C424.6,455.8 422.2,456.5 420.8,456.3C419.5,456.2 417.6,455.1 416.7,454.2C415.7,453.2 414.7,451.2 414.3,450.0C414.0,448.8 414.6,446.1 414.3,445.8C414.0,445.5 412.9,447.1 412.3,448.0C411.7,448.9 411.1,450.8 410.3,452.0C409.6,453.2 408.4,455.3 407.3,456.3C406.3,457.4 404.4,458.2 403.3,459.2C402.2,460.1 400.8,462.6 400.0,462.5C399.2,462.4 399.0,459.2 398.3,458.3C397.7,457.5 396.7,456.8 395.8,456.7C395.0,456.5 393.2,458.1 392.5,457.5C391.8,456.9 390.6,453.8 390.8,452.5Z" fill="#abd6d1"/><path d="M413.0,457.5C414.1,456.1 419.5,455.0 420.8,456.3C422.2,457.7 423.1,465.3 422.0,466.7C420.9,468.0 414.7,466.7 413.3,465.3C412.0,464.0 411.9,458.9 413.0,457.5Z" fill="#c3dfdd"/><path d="M420.8,455.0C421.3,453.5 422.3,451.0 423.3,450.0C424.3,449.0 426.5,449.2 427.5,448.3C428.5,447.5 429.1,444.7 430.0,444.2C430.9,443.7 432.2,445.0 433.3,445.0C434.5,445.0 436.5,444.5 437.5,444.2C438.5,443.8 438.6,443.0 440.0,442.5C441.4,442.0 444.5,441.2 446.7,440.8C448.8,440.5 452.2,440.3 454.2,440.0C456.2,439.7 458.4,438.4 460.0,438.7C461.6,438.9 463.8,441.3 465.0,441.7C466.2,442.0 468.5,441.7 468.3,440.8C468.2,440.0 464.5,437.1 464.2,435.8C463.8,434.6 465.0,433.1 465.8,432.5C466.7,431.9 469.2,430.9 470.0,431.7C470.8,432.4 470.6,435.6 470.8,437.5C471.1,439.4 471.2,443.8 471.7,444.2C472.2,444.5 473.9,441.5 474.2,440.0C474.4,438.5 472.8,435.2 473.3,434.2C473.8,433.2 476.4,434.0 477.5,433.3C478.6,432.7 479.5,430.9 480.8,430.0C482.2,429.1 484.8,428.1 486.7,427.5C488.5,426.9 491.3,426.3 493.3,425.8C495.3,425.3 498.2,424.8 500.0,424.2C501.8,423.5 503.2,421.8 505.0,421.3C506.8,420.9 509.7,420.9 511.7,421.3C513.7,421.8 517.6,423.1 518.3,424.2C519.1,425.2 515.2,427.3 516.7,428.3C518.2,429.3 525.1,429.8 528.3,430.8C531.6,431.8 534.8,434.9 538.3,435.0C541.8,435.1 547.7,431.7 551.7,431.7C555.7,431.7 561.2,434.1 565.0,435.0C568.8,435.9 573.4,436.8 576.7,437.5C579.9,438.2 584.2,439.9 586.7,440.0C589.2,440.1 591.2,438.1 593.3,438.3C595.5,438.6 598.6,440.7 600.8,441.7C603.1,442.7 607.7,444.1 608.3,445.0C609.0,445.9 606.5,447.2 605.0,447.5C603.5,447.8 599.6,446.2 598.3,446.7C597.1,447.2 598.2,449.6 596.7,450.8C595.2,452.1 590.7,454.6 588.3,455.0C586.0,455.4 582.7,452.5 580.8,453.3C579.0,454.2 577.1,458.3 575.8,460.8C574.6,463.3 573.4,468.5 572.5,470.0C571.6,471.5 570.1,471.7 569.7,470.8C569.2,470.0 569.1,466.0 569.7,464.2C570.2,462.3 573.5,459.5 573.3,458.3C573.1,457.2 570.8,456.3 568.3,456.7C565.8,457.0 559.9,459.6 556.7,460.8C553.4,462.1 547.4,463.8 546.7,465.0C546.0,466.2 551.8,465.9 552.0,468.7C552.2,471.4 566.6,481.1 548.3,483.3C530.0,485.5 448.0,484.3 430.0,483.3C412.0,482.3 429.3,478.4 428.3,476.7C427.3,474.9 424.3,473.2 423.3,471.7C422.3,470.2 422.3,467.8 421.7,466.7C421.0,465.5 419.4,465.2 419.2,464.2C418.9,463.2 419.8,461.4 420.0,460.0C420.2,458.6 420.3,456.5 420.8,455.0Z" fill="#99ceca"/><path d="M440.0,473.3C440.5,472.4 443.0,472.0 445.0,471.3C447.0,470.7 451.1,469.9 453.3,469.2C455.6,468.5 457.8,467.2 460.0,466.7C462.2,466.2 465.8,465.6 468.3,465.8C470.8,466.1 474.4,467.5 476.7,468.3C478.9,469.2 481.3,470.9 483.3,471.7C485.3,472.4 487.8,473.3 490.0,473.3C492.2,473.3 496.1,471.4 498.3,471.7C500.6,471.9 503.6,473.2 505.0,475.0C506.4,476.8 517.5,482.1 507.5,483.3C497.5,484.6 448.2,484.2 438.3,483.3C428.5,482.5 441.4,479.0 441.7,477.5C441.9,476.0 439.5,474.3 440.0,473.3Z" fill="#b9d8d6"/><path d="M505.8,473.3C508.1,473.0 512.4,474.5 515.0,474.2C517.6,473.8 521.2,471.9 523.3,470.8C525.5,469.8 527.4,467.3 529.2,467.0C530.9,466.7 533.4,467.7 535.0,468.7C536.6,469.6 538.5,471.9 540.0,473.3C541.5,474.8 544.0,476.8 545.0,478.3C546.0,479.8 553.6,482.6 546.3,483.3C539.1,484.1 503.6,484.3 496.7,483.3C489.7,482.3 498.6,478.2 500.0,476.7C501.4,475.2 503.6,473.7 505.8,473.3Z" fill="#b9d8d6"/><path d="M446.7,432.5C446.8,431.1 448.2,429.0 450.0,427.5C451.8,426.0 454.0,425.3 456.7,424.2C459.4,423.1 463.3,421.5 465.0,421.3C466.7,421.1 466.9,422.1 466.0,423.0C465.1,423.9 462.1,425.1 460.0,426.2C457.9,427.2 455.8,427.8 454.2,429.0C452.5,430.2 451.9,431.7 451.0,432.8C450.1,434.0 449.9,435.4 449.2,435.3C448.4,435.3 446.5,433.9 446.7,432.5Z" fill="#99ceca"/><path d="M439.2,411.3C439.9,410.8 443.1,410.3 444.2,410.5C445.2,410.7 445.8,412.0 445.0,412.5C444.2,413.0 441.1,413.5 440.0,413.3C438.9,413.1 438.4,411.8 439.2,411.3Z" fill="#99ceca"/><path d="M494.2,412.5C494.5,411.5 496.7,410.0 498.3,410.3C500.0,410.6 501.5,413.2 503.3,414.2C505.1,415.2 507.6,415.1 508.3,415.8C509.1,416.6 508.7,418.0 507.5,418.3C506.3,418.6 503.6,417.9 501.7,417.5C499.7,417.1 498.0,416.7 496.7,415.8C495.3,414.9 493.9,413.5 494.2,412.5Z" fill="#99ceca"/><path d="M547.5,425.0C548.4,424.5 550.8,423.6 553.3,423.7C555.9,423.7 560.3,424.7 561.7,425.3C563.0,425.9 562.3,426.8 560.8,427.0C559.3,427.2 555.6,426.7 553.3,426.7C551.1,426.6 549.4,427.0 548.3,426.7C547.3,426.4 546.6,425.5 547.5,425.0Z" fill="#99ceca"/><path d="M596.7,434.2C597.2,433.9 599.4,433.6 600.0,433.8C600.6,434.0 600.5,435.1 600.0,435.3C599.5,435.6 597.6,435.5 597.0,435.3C596.4,435.1 596.1,434.4 596.7,434.2Z" fill="#99ceca"/><path d="M552.8,468.3C553.0,467.4 554.0,467.1 554.3,468.0C554.7,468.9 554.9,471.4 554.8,473.3C554.8,475.3 554.5,477.8 554.2,478.7C553.8,479.6 553.1,479.3 553.0,478.3C552.9,477.4 553.4,475.1 553.3,473.3C553.3,471.5 552.7,469.3 552.8,468.3Z" fill="#99ceca"/></svg>
</div>
</body></html>
